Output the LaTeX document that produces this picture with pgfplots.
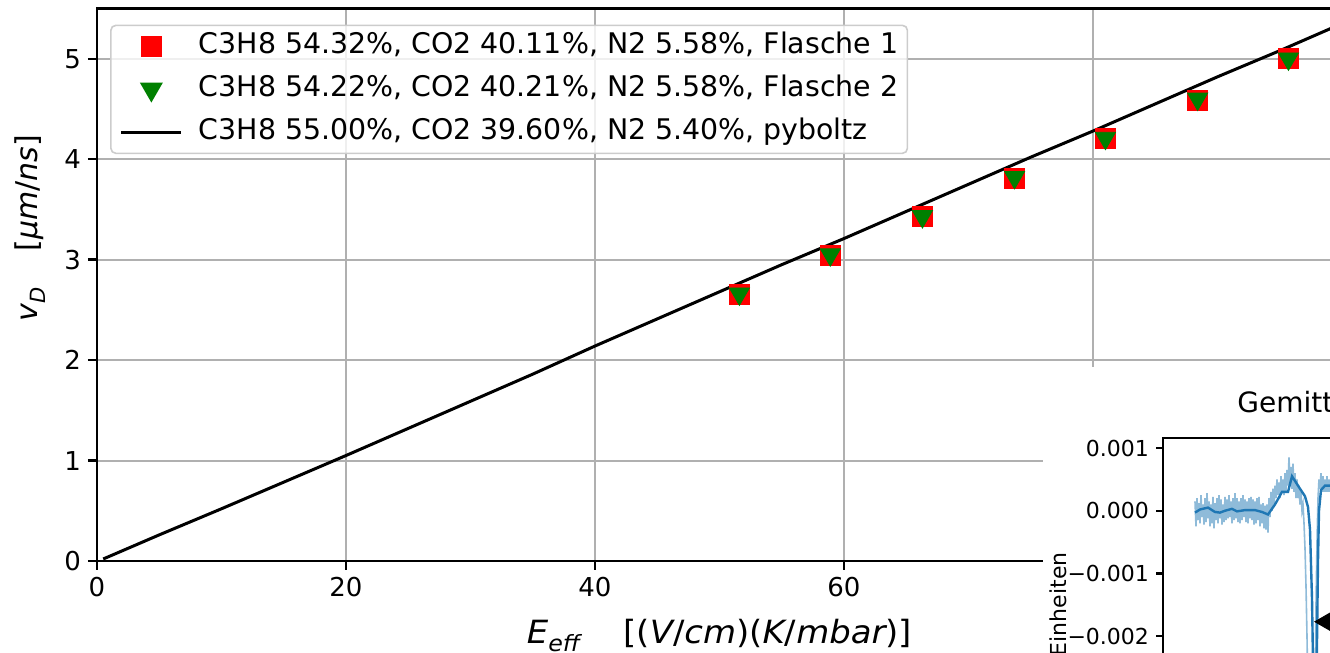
\documentclass[border=0pt]{standalone}
\usepackage{pgfplots}
\pgfplotsset{compat=1.18}
\usepackage{fontspec}
\setmainfont{DejaVu Sans}
\newfontfamily\widefont[FakeStretch=1.06]{DejaVu Sans}
\definecolor{gridgray}{HTML}{B0B0B0}
\definecolor{mplgreen}{HTML}{008000}
\definecolor{mplblue}{HTML}{1F77B4}
\definecolor{lightblue}{HTML}{8FBBD9}
\newcommand{\sub}[1]{\raisebox{-0.45ex}{\fontsize{10.5}{12}\selectfont\itshape #1}}
\newcommand{\xsub}[1]{\raisebox{-0.45ex}{\fontsize{11.2}{12}\selectfont\itshape #1}}
\begin{document}
\begin{tikzpicture}
\useasboundingbox (-48.5pt,-46pt) rectangle (616.5pt,280.5pt);
\clip (-48.5pt,-46pt) rectangle (616.5pt,280.5pt);
\begin{axis}[
  at={(0pt,0pt)}, anchor=south west, scale only axis,
  width=622.5pt, height=276.25pt,
  xmin=0, xmax=100, ymin=0, ymax=5.5,
  xtick={0,20,40,60,80}, xticklabels={0,20,40,60,{}},
  ytick={0,1,2,3,4,5},
  grid=major, grid style={color=gridgray, line width=1pt},
  axis line style={line width=1.3pt},
  tick style={line width=1.2pt, black},
  major tick length=4.5pt, tick align=outside, tick pos=left,
  ticklabel style={font=\fontsize{13}{15}\selectfont},
  /pgf/number format/assume math mode=true,
  xlabel={{\itshape E}\xsub{eff}\hspace{1.35em}[({\itshape V}/{\itshape cm})({\itshape K}/{\itshape mbar})]},
  xlabel style={font=\widefont\fontsize{16}{18}\selectfont, at={(axis description cs:0.5,0)}, anchor=base, yshift=-41.5pt},
  ylabel={{\itshape v}\sub{D}\hspace{1.2em}[{\itshape μm}/{\itshape ns}]},
  ylabel style={font=\fontsize{15}{18}\selectfont, at={(axis description cs:-0.0538,0.602)}, anchor=center},
  legend style={at={(axis description cs:0.0105,0.971)}, anchor=north west,
    font=\fontsize{14.2}{16}\selectfont, draw=gray!40, fill=white, fill opacity=0.8,
    draw opacity=1, text opacity=1, rounded corners=2.5pt, line width=0.8pt,
    inner xsep=4.5pt, inner ysep=2.5pt, row sep=5.5pt,
    nodes={inner xsep=0pt, inner ysep=1pt, text height=10.5pt, text depth=3.5pt},
    cells={anchor=west},
    /tikz/every odd column/.style={column sep=8pt}},
  legend image code/.code={\draw[fill opacity=1, mark repeat=2, mark phase=2, #1] plot coordinates {(0pt,0pt) (15pt,0pt) (30pt,0pt)};},
]
\addplot[only marks, mark=square*, mark size=5pt, mark options={draw=red, fill=red}]
  coordinates {(51.6,2.65) (58.9,3.04) (66.3,3.43) (73.7,3.81) (81.0,4.21) (88.4,4.59) (95.7,5.00)};
\addlegendentry{C3H8 54.32\%, CO2 40.11\%, N2 5.58\%, Flasche 1}
\addplot[only marks, mark=triangle*, mark size=5.8pt, mark options={rotate=180, draw=mplgreen, fill=mplgreen}]
  coordinates {(51.6,2.66) (58.9,3.05) (66.3,3.43) (73.7,3.82) (81.0,4.21) (88.4,4.60) (95.7,5.00)};
\addlegendentry{C3H8 54.22\%, CO2 40.21\%, N2 5.58\%, Flasche 2}
\addplot[black, line width=1.5pt, mark=none]
  coordinates {(0.5,0.02) (5,0.26) (10,0.52) (15,0.785) (20,1.05) (25,1.32) (30,1.59) (35,1.86) (40,2.14) (45,2.41) (50,2.68) (55,2.95) (60,3.21) (65,3.48) (70,3.75) (75,4.02) (80,4.28) (85,4.55) (90,4.82) (95,5.08) (100,5.35)};
\addlegendentry{C3H8 55.00\%, CO2 39.60\%, N2 5.40\%, pyboltz}
\end{axis}
\fill[white] (473pt,97pt) rectangle (620pt,-50pt);
\begin{axis}[
  at={(533pt,61.5pt)}, anchor=north west, scale only axis,
  width=150pt, height=146.1pt,
  xmin=0, xmax=300, ymin=-0.0035, ymax=0.00116,
  axis line style={line width=1.2pt},
  xtick=\empty, ytick={-0.002,-0.001,0,0.001},
  yticklabels={−0.002,−0.001,0.000,0.001},
  scaled y ticks=false,
  tick style={line width=1.1pt, black},
  major tick length=3.5pt, tick align=outside, tick pos=left,
  ticklabel style={font=\fontsize{11}{13}\selectfont},
]
\addplot[lightblue, line width=0.8pt, mark=none] coordinates {
(32,0.00015) (33,-0.00025) (34,0.0002) (35,-0.00015) (36,0.00012) (37,-0.0002) (38,0.00025) (39,-0.0001) (40,0.0001) (41,-0.00022)
(42,0.0002) (43,-0.00018) (44,0.00028) (45,-0.00012) (46,0.00015) (47,-0.00025) (48,0.0001) (49,-0.0002) (50,0.00022) (51,-0.00028)
(52,0.00012) (53,-0.00015) (54,0.0002) (55,-0.0002) (56,0.00025) (57,-0.00012) (58,0.00018) (59,-0.00022) (60,0.0001) (61,-0.00018)
(62,0.00022) (63,-0.00015) (64,0.00018) (65,-0.00012) (66,0.00025) (67,-0.0001) (68,0.00015) (69,-0.0002) (70,0.0002) (71,-0.00015)
(72,0.00028) (73,-0.00012) (74,0.0002) (75,-0.00018) (76,0.00015) (77,-0.0002) (78,0.0002) (79,-0.00015) (80,0.00025) (81,-0.0001)
(82,0.00018) (83,-0.00018) (84,0.00015) (85,-0.0002) (86,0.0002) (87,-0.00012) (88,0.00022) (89,-0.00015) (90,0.00018) (91,-0.00022)
(92,0.00015) (93,-0.0002) (94,0.0002) (95,-0.00015) (96,0.00022) (97,-0.00025) (98,0.0001) (99,-0.0002) (100,0.00012) (101,-0.00028)
(102,0.00008) (103,-0.0003) (104,0.0001) (105,-0.00035) (106,0.0002) (107,-0.0001) (108,0.0003) (109,0.0) (110,0.00035) (111,0.0001)
(112,0.0004) (113,0.0002) (114,0.0005) (115,0.00025) (116,0.00045) (117,0.0002) (118,0.00055) (119,0.0003) (120,0.0005) (121,0.00025)
(122,0.0006) (123,0.0003) (124,0.00065) (125,0.0004) (126,0.00085) (127,0.0004) (128,0.0007) (129,0.00035) (130,0.00075) (131,0.0003)
(132,0.0006) (133,0.0002) (134,0.0005) (135,0.0002) (136,0.0004) (137,0.0001) (138,0.0003) (139,0.0) (140,0.0001) (141,-0.0002)
(142,-0.0006) (143,-0.0012) (144,-0.002) (145,-0.003) (146,-0.0034) (147,-0.0034) (148,-0.0034) (149,-0.0034) (150,-0.0034) (151,-0.0034)
(152,-0.003) (153,-0.0015) (154,-0.0005) (155,0.0002) (156,0.0005) (157,0.00035) (158,0.0006) (159,0.0003) (160,0.00055) (161,0.0003)
(162,0.0005) (163,0.0003) (164,0.00055) (165,0.0003) (166,0.0005) (167,0.0003) (168,0.00055) (169,0.0003) (170,0.0005)};
\addplot[mplblue, line width=1.2pt, mark=none] coordinates {
(32,-0.00003) (37,0.00002) (45,0.00005) (52,-0.00002) (57,-0.00003) (62,0.0) (69,0.00003) (74,-0.00001) (82,0.00001) (92,0.00001)
(99,-0.00002) (105,-0.00006) (112,0.0001) (119,0.0003) (125,0.0003) (129,0.00055) (135,0.0004) (142,0.00023) (145,0.00006) (147,-0.0003)
(149,-0.0014) (151,-0.0034) (153,-0.0034) (155,-0.0008) (156,0.0) (158,0.00033) (162,0.0004) (170,0.0004)};
\addplot[only marks, mark=triangle*, mark size=5.8pt, mark options={rotate=90, draw=black, fill=black}]
  coordinates {(163.5,-0.00177)};
\end{axis}
\node[anchor=base west, inner sep=0pt, font=\fontsize{14}{16}\selectfont] at (570pt,74pt) {Gemittelte Signale};
\node[rotate=90, anchor=east, inner sep=0pt, font=\fontsize{11}{13}\selectfont] at (480.5pt,4.5pt) {Einheiten};
\end{tikzpicture}
\end{document}
